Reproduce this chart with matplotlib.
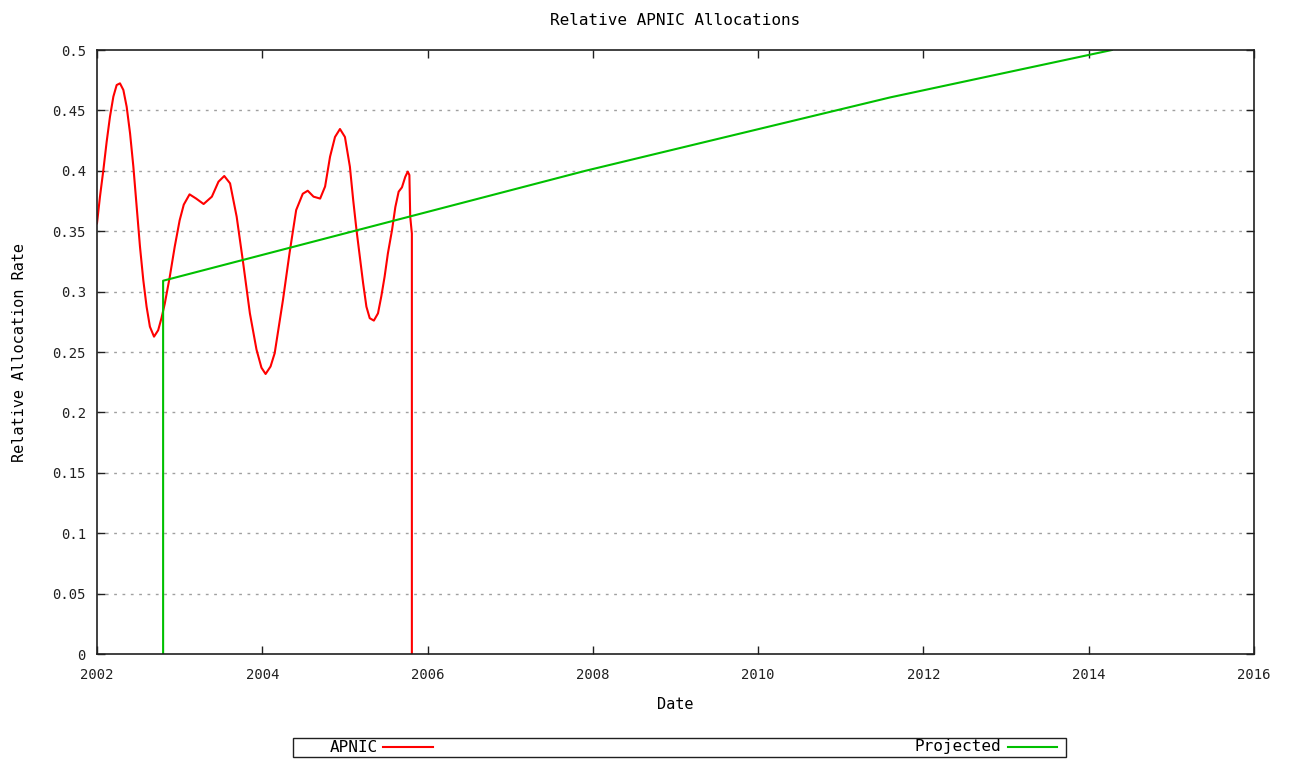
import numpy as np
import matplotlib.pyplot as plt
from matplotlib.lines import Line2D
from matplotlib.patches import Rectangle

plt.rcParams['font.family'] = ['DejaVu Sans Mono', 'DejaVu Sans']

# APNIC relative allocation rate
apnic_x = [2002.000, 2002.036, 2002.077, 2002.117, 2002.157, 2002.198, 2002.238, 2002.278,
           2002.319, 2002.359, 2002.400, 2002.440, 2002.480, 2002.520, 2002.560, 2002.600,
           2002.640, 2002.690, 2002.740, 2002.780, 2002.820, 2002.880, 2002.940, 2003.000,
           2003.050, 2003.120, 2003.200, 2003.290, 2003.390, 2003.470, 2003.540, 2003.610,
           2003.690, 2003.770, 2003.850, 2003.930, 2003.990, 2004.040, 2004.100, 2004.150,
           2004.250, 2004.330, 2004.410, 2004.490, 2004.550, 2004.620, 2004.700, 2004.760,
           2004.820, 2004.880, 2004.940, 2005.000, 2005.060, 2005.100, 2005.140, 2005.180,
           2005.220, 2005.260, 2005.300, 2005.350, 2005.400, 2005.440, 2005.480, 2005.520,
           2005.570, 2005.610, 2005.650, 2005.690, 2005.730, 2005.760, 2005.780, 2005.790,
           2005.810, 2005.810]
apnic_y = [0.3565, 0.3786, 0.4007, 0.4241, 0.4448, 0.4614, 0.4710, 0.4724,
           0.4669, 0.4530, 0.4310, 0.4034, 0.3703, 0.3372, 0.3096, 0.2875,
           0.2710, 0.2627, 0.2680, 0.2780, 0.2900, 0.3120, 0.3370, 0.3590,
           0.3720, 0.3805, 0.3770, 0.3725, 0.3786, 0.3910, 0.3957, 0.3896,
           0.3620, 0.3230, 0.2820, 0.2520, 0.2370, 0.2318, 0.2380, 0.2490,
           0.2930, 0.3320, 0.3675, 0.3810, 0.3835, 0.3786, 0.3770, 0.3870,
           0.4117, 0.4280, 0.4346, 0.4280, 0.4034, 0.3758, 0.3510, 0.3290,
           0.3070, 0.2875, 0.2780, 0.2760, 0.2820, 0.2960, 0.3123, 0.3317,
           0.3510, 0.3700, 0.3827, 0.3863, 0.3950, 0.3993, 0.3965, 0.3620,
           0.3480, 0.0]

# projected trend
proj_x = [2002.80, 2002.80, 2007.91, 2011.60, 2014.28]
proj_y = [0.0, 0.309, 0.400, 0.4608, 0.500]

xticks = [2002, 2004, 2006, 2008, 2010, 2012, 2014, 2016]
yticks = [0, 0.05, 0.1, 0.15, 0.2, 0.25, 0.3, 0.35, 0.4, 0.45, 0.5]
ytick_labels = ['0', '0.05', '0.1', '0.15', '0.2', '0.25', '0.3', '0.35', '0.4', '0.45', '0.5']

red = '#ff0000'
green = '#00c000'

fig = plt.figure(figsize=(12.91, 7.60), dpi=100)
ax = fig.add_axes([97/1291, 1 - 654/760, (1254-97)/1291, (654-50)/760])

ax.plot(apnic_x, apnic_y, color=red, lw=1.5)
ax.plot(proj_x, proj_y, color=green, lw=1.5)

ax.set_xlim(2002, 2016)
ax.set_ylim(0, 0.5)
ax.set_xticks(xticks)
ax.set_yticks(yticks)
ax.set_yticklabels(ytick_labels)
ax.tick_params(direction='in', length=6, width=1, top=True, right=True,
               labelsize=10, colors='#202020')
ax.tick_params(axis='x', pad=10)
ax.tick_params(axis='y', pad=8)
for s in ax.spines.values():
    s.set_color('#202020')
    s.set_linewidth(1.2)

for y in yticks[1:-1]:
    ax.axhline(y, color='#a0a0a0', lw=1, ls=(0, (2, 4)), zorder=0)

ax.set_title('Relative APNIC Allocations', fontsize=11.5, pad=18)
ax.set_xlabel('Date', fontsize=11, labelpad=11)
ax.set_ylabel('Relative Allocation Rate', fontsize=11, labelpad=18)

# legend box under the plot
fig.patches.append(Rectangle((293/1291, 1 - 757/760), (1066-293)/1291, 19/760,
                             transform=fig.transFigure, fill=False,
                             edgecolor='#202020', lw=1))
ly = 1 - 747/760
fig.text(378/1291, ly, 'APNIC', ha='right', va='center', fontsize=11.5)
fig.lines.append(Line2D([383/1291, 433/1291], [ly, ly], color=red, lw=1.5,
                        transform=fig.transFigure))
fig.text(1001/1291, ly, 'Projected', ha='right', va='center', fontsize=11.5)
fig.lines.append(Line2D([1008/1291, 1057/1291], [ly, ly], color=green, lw=1.5,
                        transform=fig.transFigure))

fig.savefig('out.png', dpi=100)
